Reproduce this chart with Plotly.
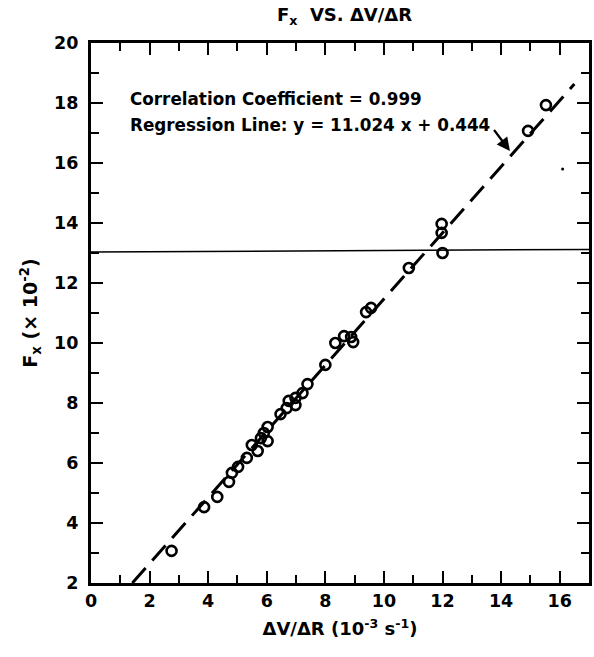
import plotly.graph_objects as go

# Measured force component against velocity gradient
dv_dr = [2.75, 3.86, 4.31, 4.71, 4.81, 5.02, 5.32, 5.49, 5.69, 5.80, 5.90, 6.03,
         6.03, 6.47, 6.68, 6.75, 6.98, 6.98, 7.22, 7.39, 8.00, 8.34, 8.64, 8.88,
         8.95, 9.39, 9.56, 10.85, 11.97, 11.97, 12.00, 14.92, 15.53]
f_x = [3.07, 4.53, 4.87, 5.37, 5.67, 5.87, 6.17, 6.60, 6.40, 6.83, 7.00, 7.20,
       6.73, 7.63, 7.83, 8.07, 8.17, 7.93, 8.33, 8.63, 9.27, 10.00, 10.23, 10.20,
       10.03, 11.03, 11.17, 12.50, 13.97, 13.67, 13.00, 17.07, 17.93]

# Regression line in plotted units (slope 11.024 per 10^-3 s^-1 scaled by 0.1)
slope = 1.1024
intercept = 0.444
fit_x = [(2 - intercept) / slope, 16.5]
fit_y = [slope * v + intercept for v in fit_x]

# Horizontal reference line
ref_x = [0, 17]
ref_y = [13.03, 13.12]

# Stray speck
speck_x = [16.1]
speck_y = [15.8]

FONT = "DejaVu Sans, Verdana, sans-serif"


def bold(size):
    return dict(family=FONT, size=size, color="black", weight="bold")


fig = go.Figure()
fig.add_trace(go.Scatter(x=ref_x, y=ref_y, mode="lines",
                         line=dict(color="black", width=1.5), hoverinfo="skip"))
fig.add_trace(go.Scatter(x=fit_x, y=fit_y, mode="lines",
                         line=dict(color="black", width=3, dash="20px,10px")))
fig.add_trace(go.Scatter(x=dv_dr, y=f_x, mode="markers",
                         marker=dict(symbol="circle-open", size=10, color="black",
                                     line=dict(width=2.6, color="black"))))
fig.add_trace(go.Scatter(x=speck_x, y=speck_y, mode="markers",
                         marker=dict(symbol="circle", size=3, color="black")))

fig.add_annotation(x=1.25, y=18.15, xref="x", yref="y", xanchor="left",
                   yanchor="middle", showarrow=False, font=bold(16.8),
                   text="Correlation Coefficient = 0.999")
fig.add_annotation(x=1.25, y=17.28, xref="x", yref="y", xanchor="left",
                   yanchor="middle", showarrow=False, font=bold(16.8),
                   text="Regression Line: y = 11.024 x + 0.444")
fig.add_annotation(x=14.3, y=16.4, ax=13.72, ay=17.15, xref="x", yref="y",
                   axref="x", ayref="y", text="", showarrow=True,
                   arrowhead=2, arrowsize=1.2, arrowwidth=2.2, arrowcolor="black")

fig.update_layout(
    width=594, height=657,
    margin=dict(l=91, r=2, t=43, b=74),
    paper_bgcolor="white", plot_bgcolor="white",
    showlegend=False,
    font=bold(17),
    title=dict(text="F<sub>x</sub>  VS. ΔV/ΔR", x=0.58, xanchor="center",
               y=0.977, yanchor="middle", font=bold(18)),
)

fig.update_xaxes(
    range=[0, 17], tickmode="linear", tick0=0, dtick=2,
    showline=True, linecolor="black", linewidth=3, mirror="allticks",
    ticks="inside", ticklen=12, tickwidth=2, tickcolor="black",
    minor=dict(tick0=0, dtick=1, ticks="inside",
               ticklen=8, tickwidth=2, tickcolor="black"),
    showgrid=False, zeroline=False,
    tickfont=bold(17.5),
    title=dict(text="ΔV/ΔR (10<sup>-3</sup> s<sup>-1</sup>)", standoff=13,
               font=bold(18)),
)
fig.update_yaxes(
    range=[2, 20], tickmode="linear", tick0=2, dtick=2,
    showline=True, linecolor="black", linewidth=3, mirror="allticks",
    ticks="inside", ticklen=12, tickwidth=2, tickcolor="black",
    minor=dict(tick0=0, dtick=1, ticks="inside",
               ticklen=8, tickwidth=2, tickcolor="black"),
    showgrid=False, zeroline=False,
    tickfont=bold(17.5), ticksuffix=" ",
    title=dict(text="F<sub>x</sub> (× 10<sup>-2</sup>)", standoff=12,
               font=bold(19)),
)

fig.write_html("out.html")
